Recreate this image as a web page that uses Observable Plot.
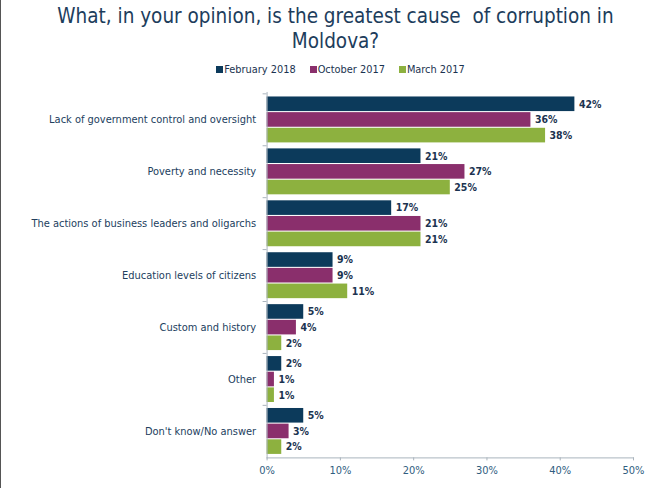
<!DOCTYPE html>
<html>
<head>
<meta charset="utf-8">
<script src="https://cdn.jsdelivr.net/npm/d3@7"></script>
<script src="https://cdn.jsdelivr.net/npm/@observablehq/plot@0.6"></script>
<style>
  html, body { margin: 0; padding: 0; background: #fff; }
  #wrap { width: 650px; height: 488px; box-sizing: border-box; border-left: 1px solid #555; position: relative; overflow: hidden; font-family: "DejaVu Sans Condensed", "DejaVu Sans", sans-serif; }
  #title { padding-top: 4px; padding-left: 20px; text-align: center; font-size: 20.5px; line-height: 25px; color: #1d3d5c; }
  #legend { margin-top: 9px; height: 14px; line-height: 14px; display: flex; justify-content: center; padding-left: 30px; font-size: 10.9px; color: #1b3350; gap: 14px; }
  #legend span.sw { display: inline-block; width: 7px; height: 7px; margin-right: 1px; vertical-align: 0px; }
  #chart { margin-top: 3px; }
</style>
</head>
<body>
<div id="wrap">
  <div id="title">What, in your opinion, is the greatest cause&nbsp; of corruption in<br>Moldova?</div>
  <div id="legend"></div>
  <div id="chart"></div>
</div>
<script>
const categories = [
  "Lack of government control and oversight",
  "Poverty and necessity",
  "The actions of business leaders and oligarchs",
  "Education levels of citizens",
  "Custom and history",
  "Other",
  "Don't know/No answer"
];
const seriesNames = ["February 2018", "October 2017", "March 2017"];
const seriesColors = ["#0c3a5b", "#8a2f6c", "#8db13f"];
const feb2018 = [42, 21, 17, 9, 5, 2, 5];
const oct2017 = [36, 27, 21, 9, 4, 1, 3];
const mar2017 = [38, 25, 21, 11, 2, 1, 2];
const xTicks = [0, 10, 20, 30, 40, 50];

const seriesValues = [feb2018, oct2017, mar2017];

// legend
const legend = document.getElementById("legend");
seriesNames.forEach((name, i) => {
  const item = document.createElement("span");
  item.innerHTML = `<span class="sw" style="background:${seriesColors[i]}"></span>${name}`;
  legend.appendChild(item);
});

const W = 650, H = 408, mt = 12, mb = 30, ml = 266, mr = 17;
const pInner = 0.1, pOuter = 0.05;
const n = categories.length;
const step = (H - mt - mb) / (n - pInner + 2 * pOuter);
const bw = step * (1 - pInner);
const h = bw / 3;

const data = seriesValues.map((vals, i) =>
  categories.map((c, j) => ({category: c, series: seriesNames[i], value: vals[j]}))
);

const marks = [];
data.forEach((d, i) => {
  marks.push(Plot.barX(d, {
    x: "value", y: "category", fill: seriesColors[i],
    insetTop: i * h + 0.5, insetBottom: (2 - i) * h + 0.5
  }));
  marks.push(Plot.text(d, {
    x: "value", y: "category", text: v => v.value + "%",
    dx: 4, dy: (i - 1) * h, textAnchor: "start",
    fontWeight: "bold", fontSize: 10.5, fill: "#1b3350"
  }));
});

const chart = Plot.plot({
  width: W, height: H,
  marginTop: mt, marginBottom: mb, marginLeft: ml, marginRight: mr,
  style: {fontFamily: "'DejaVu Sans Condensed', 'DejaVu Sans', sans-serif", background: "transparent"},
  x: {domain: [0, 50], ticks: xTicks},
  y: {domain: categories, paddingInner: pInner, paddingOuter: pOuter},
  marks: [
    ...marks,
    Plot.frame({anchor: "left", stroke: "#aab4bd"}),
    Plot.frame({anchor: "bottom", stroke: "#aab4bd"}),
    Plot.ruleY(categories, {y: d => d, dy: -step / 2, x1: 0, x2: 0, insetLeft: -4, stroke: "#aab4bd"}),
    Plot.axisX({ticks: xTicks, tickFormat: d => d + "%", tickSize: 3, tickPadding: 5, fontSize: 11, color: "#2f5d80", stroke: "#aab4bd", label: null}),
    Plot.axisY({tickSize: 0, tickPadding: 11, fontSize: 11, color: "#22405e", label: null})
  ]
});
document.getElementById("chart").appendChild(chart);
</script>
</body>
</html>
